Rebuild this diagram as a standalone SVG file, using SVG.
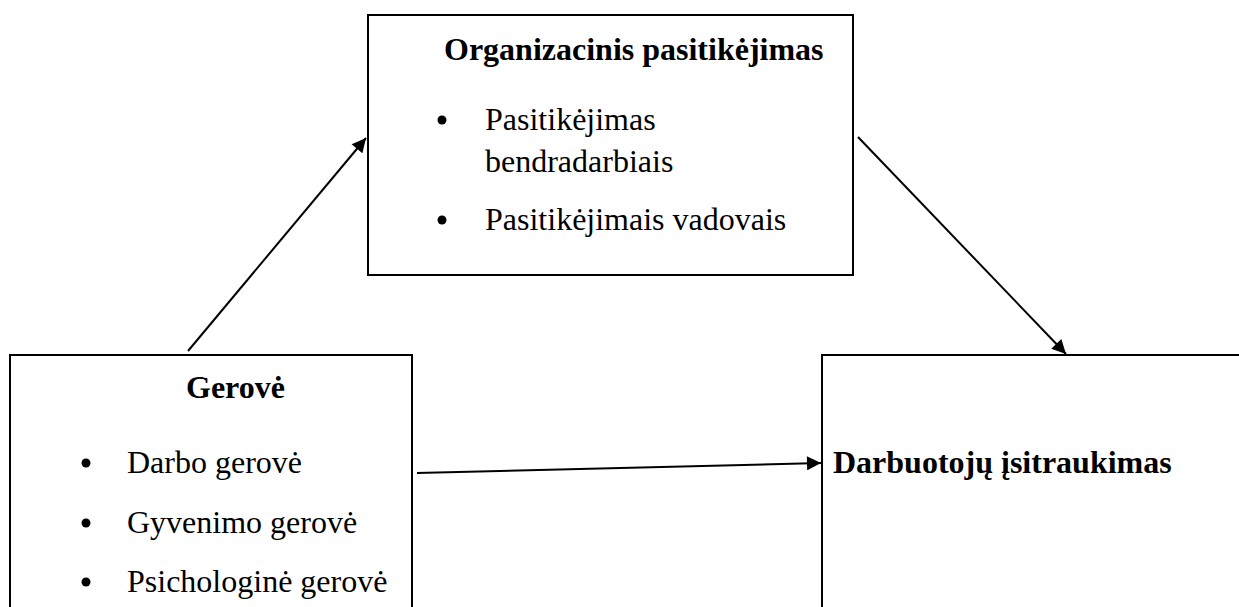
<svg xmlns="http://www.w3.org/2000/svg" width="1239" height="607" viewBox="0 0 1239 607">
  <style>
    .box { fill: #ffffff; stroke: #000000; stroke-width: 2; }
    .t { font-family: "Liberation Serif", "Times New Roman", serif; font-size: 32px; fill: #000000; }
    .b { font-weight: bold; }
    .edge { stroke: #000000; stroke-width: 2; fill: none; marker-end: url(#arrow); }
    .dot { fill: #000000; }
  </style>
  <defs>
    <marker id="arrow" viewBox="0 0 10 10" refX="10" refY="5" markerWidth="8" markerHeight="7" markerUnits="strokeWidth" orient="auto">
      <path d="M0,0 L10,5 L0,10 Z" fill="#000000"/>
    </marker>
  </defs>
  <rect width="1239" height="607" fill="#ffffff"/>

  <g id="connectors">
    <line class="edge" x1="188" y1="351" x2="366" y2="138"/>
    <line class="edge" x1="858" y1="137" x2="1066" y2="354"/>
    <line class="edge" x1="417" y1="473" x2="821" y2="463"/>
  </g>

  <g id="node-trust">
    <rect class="box" x="368" y="15" width="485" height="260"/>
    <text class="t b" x="444" y="60">Organizacinis pasitikėjimas</text>
    <circle class="dot" cx="442" cy="120" r="4.5"/>
    <text class="t" x="485" y="130">Pasitikėjimas</text>
    <text class="t" x="485" y="172">bendradarbiais</text>
    <circle class="dot" cx="442" cy="220" r="4.5"/>
    <text class="t" x="485" y="230">Pasitikėjimais vadovais</text>
  </g>

  <g id="node-wellbeing">
    <rect class="box" x="10" y="355" width="402" height="260"/>
    <text class="t b" x="186" y="398">Gerovė</text>
    <circle class="dot" cx="86" cy="463" r="4.5"/>
    <text class="t" x="127" y="473">Darbo gerovė</text>
    <circle class="dot" cx="86" cy="523" r="4.5"/>
    <text class="t" x="127" y="533">Gyvenimo gerovė</text>
    <circle class="dot" cx="86" cy="582" r="4.5"/>
    <text class="t" x="127" y="592">Psichologinė gerovė</text>
  </g>

  <g id="node-engagement">
    <rect class="box" x="822" y="355" width="430" height="260"/>
    <text class="t b" x="833" y="473">Darbuotojų įsitraukimas</text>
  </g>
</svg>
